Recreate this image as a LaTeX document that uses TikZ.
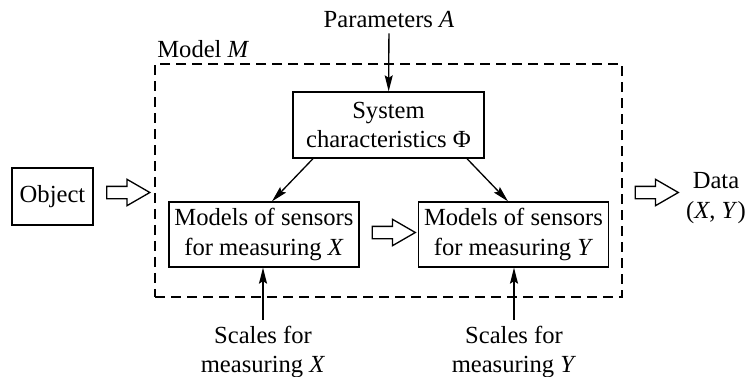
\documentclass[tikz,border=0pt]{standalone}
\usepackage{fontspec}
\setmainfont{Liberation Serif}
\usetikzlibrary{arrows.meta,shapes.arrows}

\tikzset{
    every node/.style={font=\fontsize{14}{17}\selectfont},
    block/.style={draw, line width=0.75pt, align=center, minimum width=3.8cm, minimum height=1.3cm, inner sep=0pt},
    txt/.style={align=center},
    feed/.style={line width=0.75pt, -{Stealth[length=3.2mm, width=1.6mm, inset=0.5mm]}},
    hollow/.style={draw, line width=0.75pt, single arrow, single arrow tip angle=60, single arrow head extend=0.14cm, minimum height=0.86cm, inner xsep=0pt, inner ysep=0.11cm},
    modelbox/.style={draw, line width=0.75pt, dash pattern=on 2mm off 1.2mm, minimum width=9.34cm, minimum height=4.66cm, inner sep=0pt}
}

\begin{document}
\begin{tikzpicture}[x=0.02cm, y=-0.02cm]

        \useasboundingbox (0,0) rectangle (748,376);

        % Model M
        \node[modelbox] (model) at (388.5,180.5) {};
        \node[txt, anchor=base west, inner sep=0pt] (modelname) at (157,57) {Model \textit{M}};

        % Blocks
        \node[block, minimum width=1.62cm, minimum height=1.14cm] (object) at (52.5,196.5) {Object};
        \node[block, minimum width=3.82cm, minimum height=1.32cm] (system) at (388.5,125) {System\\characteristics Φ};
        \node[block] (sensx) at (264,234.5) {Models of sensors\\for measuring \textit{X}};
        \node[block] (sensy) at (513.5,234.5) {Models of sensors\\for measuring \textit{Y}};

        % Labels outside
        \node[txt] (param) at (389,19) {Parameters \textit{A}};
        \node[txt] (scalesx) at (263,352) {Scales for\\measuring \textit{X}};
        \node[txt] (scalesy) at (514,352) {Scales for\\measuring \textit{Y}};
        \node[txt] (data) at (716,198) {Data\\(\textit{X}, \textit{Y}\/)};

        % Hollow arrows
        \node[hollow] (inarrow) at (123,192.5) {};
        \node[hollow] (midarrow) at (388.5,232.5) {};
        \node[hollow] (outarrow) at (651.5,192.5) {};

        % Connectors
        \draw[feed] (param) -- (system);
        \draw[feed] ([xshift=-1.51cm]system.south) -- ([xshift=0.16cm]sensx.north);
        \draw[feed] ([xshift=1.57cm]system.south) -- ([xshift=-0.11cm]sensy.north);
        \draw[feed] (scalesx) -- (scalesx |- sensx.south);
        \draw[feed] (scalesy) -- (scalesy |- sensy.south);

    \end{tikzpicture}
\end{document}
